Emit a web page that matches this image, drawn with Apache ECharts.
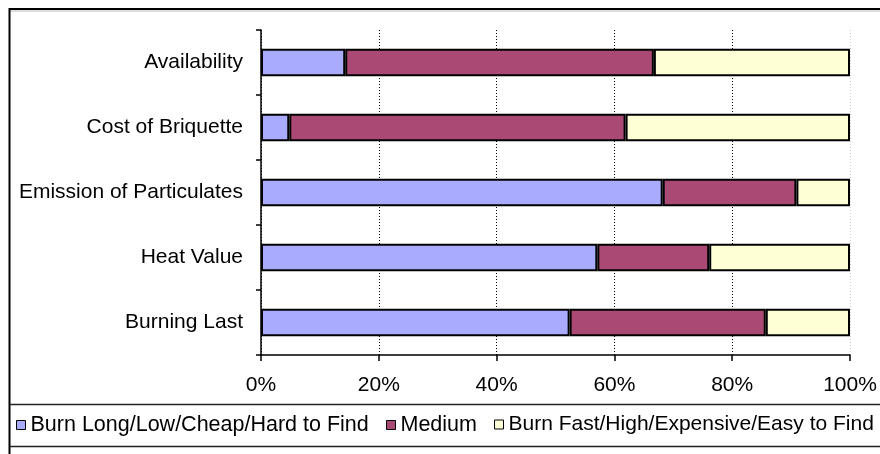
<!DOCTYPE html>
<html>
<head>
<meta charset="utf-8">
<script src="https://cdn.jsdelivr.net/npm/echarts@6/dist/echarts.min.js"></script>
<style>
html,body{margin:0;padding:0;background:#fff;}
#c{width:880px;height:454px;}
</style>
</head>
<body>
<div id="c"></div>
<script>
var categories = ['Availability', 'Cost of Briquette', 'Emission of Particulates', 'Heat Value', 'Burning Last'];
var seriesNames = ['Burn Long/Low/Cheap/Hard to Find', 'Medium', 'Burn Fast/High/Expensive/Easy to Find'];
var burnLong = [14.3, 4.8, 68.2, 57.1, 52.4];
var medium = [52.4, 57.1, 22.7, 19.0, 33.3];
var burnFast = [33.3, 38.1, 9.1, 23.9, 14.3];
var xTicks = [0, 20, 40, 60, 80, 100];

var FONT = "'Liberation Sans', Arial, sans-serif";
var colors = ['#A9ACFE', '#AA4A74', '#FFFFD5'];
var values = [burnLong, medium, burnFast];

var chart = echarts.init(document.getElementById('c'), null, {renderer: 'canvas'});

var series = seriesNames.map(function (n, i) {
  return {
    name: n,
    type: 'bar',
    stack: 'total',
    data: values[i],
    barCategoryGap: '58%',
    itemStyle: {color: colors[i], borderColor: '#000', borderWidth: 2},
    emphasis: {disabled: true},
    animation: false
  };
});

function legendFor(idx, left, fs) {
  return {
    data: [seriesNames[idx]],
    left: left,
    top: 414,
    icon: 'rect',
    itemWidth: 9,
    itemHeight: 9,
    padding: 0,
    selectedMode: false,
    textStyle: {fontFamily: FONT, fontSize: fs, color: '#000'},
    itemStyle: {borderColor: '#000', borderWidth: 1}
  };
}

var option = {
  backgroundColor: '#fff',
  animation: false,
  grid: {left: 261, right: 30, top: 30, bottom: 99, containLabel: false},
  legend: [legendFor(0, 16, 21.5), legendFor(1, 386, 21.5), legendFor(2, 494, 21)],
  xAxis: {
    type: 'value',
    min: xTicks[0],
    max: xTicks[xTicks.length - 1],
    interval: 20,
    axisLine: {show: true, lineStyle: {color: '#000', width: 1.5}},
    axisTick: {show: true, length: 6, lineStyle: {color: '#000', width: 1.5}},
    axisLabel: {
      formatter: '{value}%',
      fontFamily: FONT, fontSize: 21, color: '#000', margin: 20
    },
    splitLine: {
      show: true,
      lineStyle: {color: ['#000', '#000', '#000', '#000', '#000', '#cccccc'], type: [1, 2], width: 1}
    }
  },
  yAxis: {
    type: 'category',
    data: categories,
    inverse: true,
    axisLine: {show: true, lineStyle: {color: '#000', width: 1.5}},
    axisTick: {show: true, length: 5, inside: false, lineStyle: {color: '#000', width: 1.5}},
    axisLabel: {fontFamily: FONT, fontSize: 21, color: '#000', margin: 18}
  },
  graphic: [
    {type: 'line', silent: true, shape: {x1: 9, y1: 9, x2: 880, y2: 9}, style: {stroke: '#000', lineWidth: 2}},
    {type: 'line', silent: true, shape: {x1: 10, y1: 11, x2: 880, y2: 11}, style: {stroke: '#bbb', lineWidth: 1}},
    {type: 'line', silent: true, shape: {x1: 9.5, y1: 8, x2: 9.5, y2: 454}, style: {stroke: '#000', lineWidth: 2}},
    {type: 'line', silent: true, shape: {x1: 10, y1: 404.5, x2: 880, y2: 404.5}, style: {stroke: '#222', lineWidth: 1.5}},
    {type: 'line', silent: true, shape: {x1: 10, y1: 446.5, x2: 880, y2: 446.5}, style: {stroke: '#222', lineWidth: 1.5}}
  ],
  series: series
};
chart.setOption(option);
</script>
</body>
</html>
